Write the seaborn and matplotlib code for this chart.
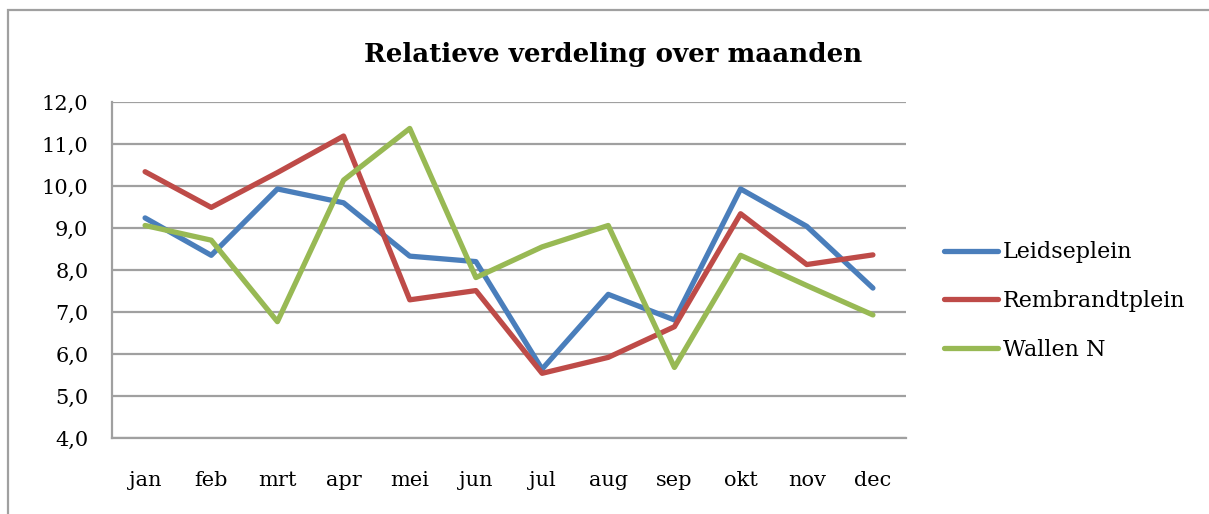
import matplotlib
matplotlib.use("Agg")
import matplotlib.pyplot as plt
import matplotlib.patches as patches
import pandas as pd
import seaborn as sns
from matplotlib.ticker import FuncFormatter, FixedLocator

# data
maanden = ["jan", "feb", "mrt", "apr", "mei", "jun",
           "jul", "aug", "sep", "okt", "nov", "dec"]
leidseplein = [9.24, 8.35, 9.93, 9.60, 8.33, 8.20, 5.64, 7.42, 6.81, 9.93, 9.04, 7.57]
rembrandtplein = [10.34, 9.49, 10.32, 11.19, 7.29, 7.51, 5.54, 5.92, 6.65, 9.34, 8.13, 8.36]
wallen_n = [9.06, 8.71, 6.77, 10.14, 11.37, 7.82, 8.55, 9.06, 5.68, 8.35, 7.63, 6.93]

reeksen = ["Leidseplein", "Rembrandtplein", "Wallen N"]
kleuren = ["#4A7EBB", "#BE4B48", "#98B954"]

df = pd.DataFrame({"maand": maanden, "Leidseplein": leidseplein,
                   "Rembrandtplein": rembrandtplein, "Wallen N": wallen_n})
long = df.melt(id_vars="maand", var_name="locatie", value_name="waarde")
long["pos"] = long["maand"].map({m: i for i, m in enumerate(maanden)})

sns.set_style("white")
plt.rcParams["font.family"] = ["DejaVu Serif"]
plt.rcParams["text.color"] = "black"

fig = plt.figure(figsize=(12.09, 5.14), dpi=100)
ax = fig.add_axes([112 / 1209, 76 / 514, 794 / 1209, 336 / 514])

sns.lineplot(data=long, x="pos", y="waarde", hue="locatie", hue_order=reeksen,
             palette=kleuren, linewidth=3.8, ax=ax, sort=False)

grijs = "#A0A0A0"
fs = 15
ax.set_xlim(-0.5, 11.5)
ax.set_ylim(4, 12)
ax.set_yticks([4, 5, 6, 7, 8, 9, 10, 11, 12])
ax.yaxis.set_major_formatter(FuncFormatter(lambda v, p: f"{v:.1f}".replace(".", ",")))
ax.set_xticks(range(12))
ax.set_xticklabels(maanden)
ax.xaxis.set_minor_locator(FixedLocator([i - 0.5 for i in range(13)]))
ax.tick_params(axis="x", which="major", length=0, pad=24, labelsize=fs, labelcolor="black")
ax.tick_params(axis="x", which="minor", length=6, width=1.3, color=grijs, direction="out")
ax.tick_params(axis="y", length=6, width=1.3, color=grijs, direction="out", pad=11,
               labelsize=fs, labelcolor="black")
ax.grid(axis="y", color=grijs, linewidth=1.6)
ax.set_axisbelow(True)
for kant in ["top", "right"]:
    ax.spines[kant].set_visible(False)
for kant in ["left", "bottom"]:
    ax.spines[kant].set_color(grijs)
    ax.spines[kant].set_linewidth(1.6)
ax.set_xlabel("")
ax.set_ylabel("")

ax.set_title("Relatieve verdeling over maanden", fontsize=18.8, fontweight="bold",
             pad=29, x=(613 - 112) / 794, color="black")

leg = ax.legend(loc="center left", bbox_to_anchor=(944 / 1209, 1 - 301 / 514),
                bbox_transform=fig.transFigure, frameon=False, fontsize=16,
                handlelength=2.45, handletextpad=0.2, labelspacing=1.2, borderaxespad=0,
                borderpad=0)
for t in leg.get_texts():
    t.set_color("black")

# outer chart border (top and left visible)
fig.add_artist(patches.Rectangle((8 / 1209, -0.2), 1.2, 1.2 - 10 / 514,
                                 transform=fig.transFigure, fill=False,
                                 edgecolor=grijs, linewidth=1.6, clip_on=False))

fig.savefig("out.png", dpi=100)
